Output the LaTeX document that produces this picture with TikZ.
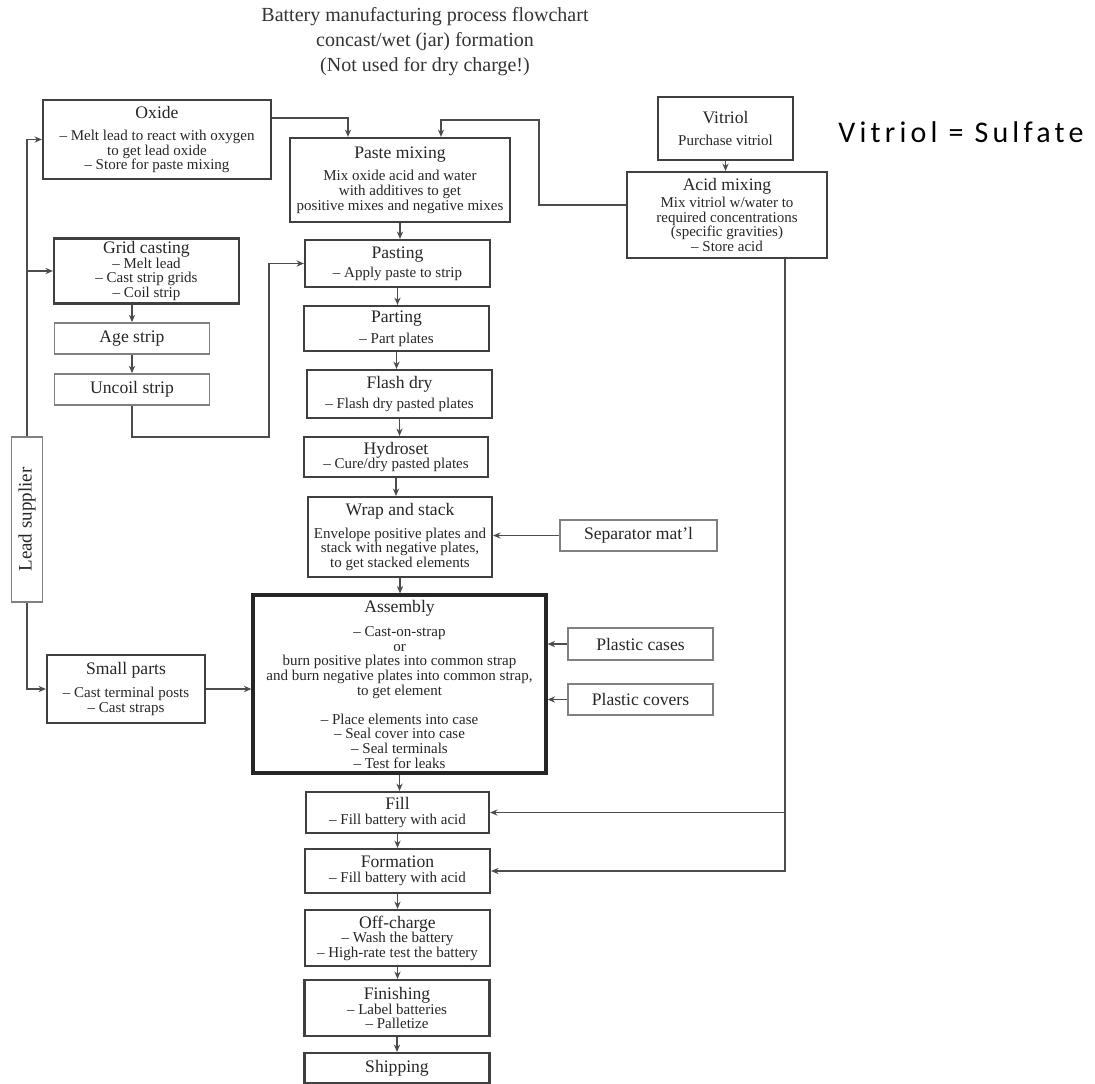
\documentclass[tikz,border=0pt]{standalone}
\usepackage{fontspec}
\setmainfont{Liberation Serif}
\newfontfamily\notefont[LetterSpace=14]{Carlito}
\usetikzlibrary{positioning,arrows.meta,calc}
\newcommand{\bhead}[1]{{\fontsize{8.8}{7.3}\selectfont #1}}

\begin{document}
\begin{tikzpicture}[x=0.5pt,y=-0.5pt,
 b/.style={draw=black!75,line width=1.1pt,align=center,font=\fontsize{7.5}{7.3}\selectfont,inner sep=1pt,text=black!85},
 l/.style={b,draw=black!50,line width=0.9pt,font=\fontsize{8.8}{9}\selectfont},
 a/.style={-{Stealth[length=1.3mm,width=1.1mm]},line width=0.9pt,draw=black!70}]
\useasboundingbox (0,0) rectangle (1095,1083);
% title and note
\node[font=\fontsize{10}{12.5}\selectfont,text=black!80,align=center] (title) at (425,42) {Battery manufacturing process flowchart\\concast/wet (jar) formation\\(Not used for dry charge!)};
\node[font=\notefont\fontsize{15}{17}\selectfont] (note) at (961,132) {Vitriol = Sulfate};
% top row
\node[b,minimum width=114pt,minimum height=39.5pt] (oxide) at (157,139.5) {\bhead{Oxide}\\[4pt]-- Melt lead to react with oxygen\\to get lead oxide\\-- Store for paste mixing};
\node[b,minimum width=110pt,minimum height=42pt] (paste) at (400,180) {\bhead{Paste mixing}\\[4pt]Mix oxide acid and water\\with additives to get\\positive mixes and negative mixes};
\node[b,minimum width=67.5pt,minimum height=31.5pt] (vit) at (725.5,128.5) {\bhead{Vitriol}\\[4pt]Purchase vitriol};
\node[b,minimum width=100pt,minimum height=43pt] (acid) at (727,215) {\bhead{Acid mixing}\\[1pt]Mix vitriol w/water to\\required concentrations\\(specific gravities)\\-- Store acid};
% grid line
\node[b,minimum width=92.5pt,minimum height=32.5pt] (grid) at (146.5,271) {\bhead{Grid casting}\\-- Melt lead\\-- Cast strip grids\\-- Coil strip};
\node[l,minimum width=77.5pt,minimum height=15.5pt] (age) at (132,338.5) {Age strip};
\node[l,minimum width=77.5pt,minimum height=15.5pt] (uncoil) at (132,389.5) {Uncoil strip};
\node[l,rotate=90,minimum width=82.5pt,minimum height=15.5pt,font=\fontsize{9.5}{10}\selectfont] (lead) at (27,519.5) {Lead supplier};
% plate line
\node[b,minimum width=92.5pt,minimum height=23.5pt] (pasting) at (397.5,263.5) {\bhead{Pasting}\\[2pt]-- Apply paste to strip};
\node[b,minimum width=92.5pt,minimum height=22.5pt] (parting) at (396.5,328.5) {\bhead{Parting}\\[3pt]-- Part plates};
\node[b,minimum width=92.5pt,minimum height=24pt] (flash) at (399.5,394) {\bhead{Flash dry}\\[3pt]-- Flash dry pasted plates};
\node[b,minimum width=92pt,minimum height=20pt] (hydro) at (396,457) {\bhead{Hydroset}\\-- Cure/dry pasted plates};
\node[b,minimum width=92pt,minimum height=40pt] (wrap) at (400,537) {\bhead{Wrap and stack}\\[4pt]Envelope positive plates and\\stack with negative plates,\\to get stacked elements};
\node[l,minimum width=78.5pt,minimum height=15.5pt] (sep) at (638.5,535.5) {Separator mat'l};
% assembly
\node[b,line width=1.6pt,draw=black!85,minimum width=146.5pt,minimum height=89pt] (assembly) at (399.5,684) {\bhead{Assembly}\\[5pt]-- Cast-on-strap\\or\\burn positive plates into common strap\\and burn negative plates into common strap,\\to get element\\[7.3pt]-- Place elements into case\\-- Seal cover into case\\-- Seal terminals\\-- Test for leaks};
\node[b,minimum width=79pt,minimum height=34pt] (small) at (126,689) {\bhead{Small parts}\\[4pt]-- Cast terminal posts\\-- Cast straps};
\node[l,minimum width=72.5pt,minimum height=16pt] (cases) at (640.5,644) {Plastic cases};
\node[l,minimum width=72.5pt,minimum height=15.5pt] (covers) at (640.5,699.5) {Plastic covers};
% finishing line
\node[b,minimum width=91.5pt,minimum height=20.5pt] (fill) at (397.5,812.5) {\bhead{Fill}\\-- Fill battery with acid};
\node[b,minimum width=92.5pt,minimum height=22pt] (form) at (397.5,871) {\bhead{Formation}\\-- Fill battery with acid};
\node[b,minimum width=92.5pt,minimum height=28pt] (off) at (397.5,938) {\bhead{Off-charge}\\-- Wash the battery\\-- High-rate test the battery};
\node[b,minimum width=92.5pt,minimum height=28pt] (fin) at (397,1008) {\bhead{Finishing}\\-- Label batteries\\-- Palletize};
\node[b,minimum width=92.5pt,minimum height=15pt,font=\fontsize{8.8}{9}\selectfont] (ship) at (397,1068) {Shipping};
% connectors
\draw[a] (lead.east) |- (oxide.west);
\draw[a] (lead.east) |- (grid.west);
\draw[a] (lead.west) |- (small.west);
\draw[a] ([yshift=10.75pt]oxide.east) -| ([xshift=-26pt]paste.north);
\draw[a] ([yshift=5pt]acid.west) -- ++(-87,0) -- ++(0,-85) -| ([xshift=20.5pt]paste.north);
\draw[a] (vit.south) -- (vit.south |- acid.north);
\draw[a] (grid.south -| age.north) -- (age.north);
\draw[a] (age) -- (uncoil);
\draw[a] (uncoil.south) -- ++(0,31) -- ++(137,0) |- (pasting.west);
\coordinate (acd) at ($(acid.south)+(58,0)$);
\draw[a] (acd) |- (form.east);
\draw[a] (acd |- fill.east) -- (fill.east);
\draw[a] (sep.west) -- (sep.west -| wrap.east);
\draw[a] (cases.west) -- (cases.west -| assembly.east);
\draw[a] (covers.west) -- (covers.west -| assembly.east);
\draw[a] (small.east) -- (small.east -| assembly.west);
\foreach \u/\v in {paste/pasting,pasting/parting,parting/flash,flash/hydro,hydro/wrap,wrap/assembly,assembly/fill,fill/form,form/off,off/fin,fin/ship}
  \draw[a] (\u.south) -- (\u.south |- \v.north);
\end{tikzpicture}
\end{document}
